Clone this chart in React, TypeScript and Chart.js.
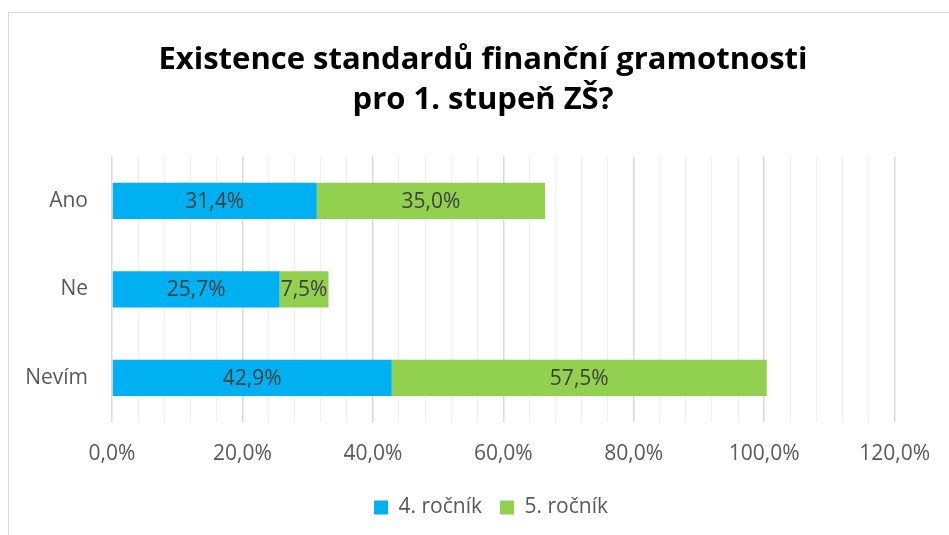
import React, { useEffect, useRef } from 'react';
import { Chart, registerables } from 'chart.js';

Chart.register(...registerables);

const titleLines = ['Existence standardů finanční gramotnosti', 'pro 1. stupeň ZŠ?'];
const categories = ['Ano', 'Ne', 'Nevím'];
const seriesNames = ['4. ročník', '5. ročník'];
const grade4 = [31.4, 25.7, 42.9];
const grade5 = [35.0, 7.5, 57.5];
const seriesColors = ['#00B0F0', '#92D050'];
const xMax = 120;
const xMinorStep = 4;
const xMajorStep = 20;

const fmt = (v: number) => v.toFixed(1).replace('.', ',') + '%';

const dataLabelPlugin = {
  id: 'dataLabels',
  afterDatasetsDraw(chart: any) {
    const ctx = chart.ctx;
    ctx.save();
    ctx.font = '21px "Open Sans"';
    ctx.fillStyle = '#404040';
    ctx.textAlign = 'center';
    ctx.textBaseline = 'middle';
    chart.data.datasets.forEach((ds: any, i: number) => {
      const meta = chart.getDatasetMeta(i);
      meta.data.forEach((el: any, j: number) => {
        const { x, base, y } = el.getProps(['x', 'base', 'y'], true);
        ctx.fillText(fmt(ds.data[j]), (x + base) / 2, y + 1);
      });
    });
    ctx.restore();
  },
};

// Centre the title and legend over the plot region rather than the whole canvas
const centerBoxesPlugin = {
  id: 'centerBoxes',
  afterLayout(chart: any) {
    if (chart.titleBlock) {
      chart.titleBlock.left = 68;
      chart.titleBlock.width = chart.titleBlock.right - 68;
    }
    if (chart.legend) {
      chart.legend.left = 84;
      chart.legend.width = chart.legend.right - 84;
    }
  },
};

export default function App() {
  const ref = useRef<HTMLCanvasElement | null>(null);
  useEffect(() => {
    if (!ref.current) return;
    const chart = new Chart(ref.current, {
      type: 'bar',
      data: {
        labels: categories,
        datasets: [
          { label: seriesNames[0], data: grade4, backgroundColor: seriesColors[0], borderWidth: 0 },
          { label: seriesNames[1], data: grade5, backgroundColor: seriesColors[1], borderWidth: 0 },
        ],
      },
      options: {
        indexAxis: 'y',
        responsive: false,
        animation: false,
        layout: { padding: { left: 0, right: 51, top: 0, bottom: 7 } },
        datasets: { bar: { categoryPercentage: 1, barPercentage: 0.41 } },
        scales: {
          x: {
            stacked: true,
            min: 0,
            max: xMax,
            border: { display: false },
            grid: {
              drawTicks: false,
              color: (c: any) => (c.tick && c.tick.value % xMajorStep === 0 ? '#d9d9d9' : '#efefef'),
              lineWidth: (c: any) => (c.tick && c.tick.value % xMajorStep === 0 ? 1.5 : 1),
            },
            ticks: {
              stepSize: xMinorStep,
              autoSkip: false,
              maxRotation: 0,
              padding: 19,
              color: '#595959',
              font: { family: '"Open Sans"', size: 21 },
              callback: (v: any) => (Number(v) % xMajorStep === 0 ? fmt(Number(v)) : ''),
            },
            afterFit: (s: any) => {
              s.height = 57;
            },
          },
          y: {
            stacked: true,
            border: { display: false },
            grid: { display: false, drawTicks: false },
            ticks: {
              padding: 24,
              color: '#595959',
              font: { family: '"Open Sans"', size: 21 },
            },
            afterFit: (s: any) => {
              s.width = 112;
            },
          },
        },
        plugins: {
          title: {
            display: true,
            text: titleLines,
            color: '#000000',
            font: { family: '"Liberation Sans Narrow", "Open Sans", sans-serif', size: 31, weight: 'bold', lineHeight: 1.3 },
            padding: { top: 40, bottom: 36 },
          },
          legend: {
            position: 'bottom',
            labels: {
              boxWidth: 14,
              boxHeight: 14,
              padding: 18,
              color: '#595959',
              font: { family: '"Open Sans"', size: 21 },
            },
          },
          tooltip: { enabled: false },
        },
      },
      plugins: [dataLabelPlugin, centerBoxesPlugin],
    });
    return () => chart.destroy();
  }, []);

  return (
    <div style={{ position: 'fixed', left: 0, top: 0, width: 949, height: 535, overflow: 'hidden', background: '#fff' }}>
      <div
        style={{
          position: 'absolute',
          left: 8,
          top: 12,
          width: 1000,
          height: 600,
          border: '1px solid #d9d9d9',
          boxSizing: 'border-box',
        }}
      />
      <canvas ref={ref} width={949} height={535} style={{ position: 'absolute', left: 0, top: 0 }} />
    </div>
  );
}
